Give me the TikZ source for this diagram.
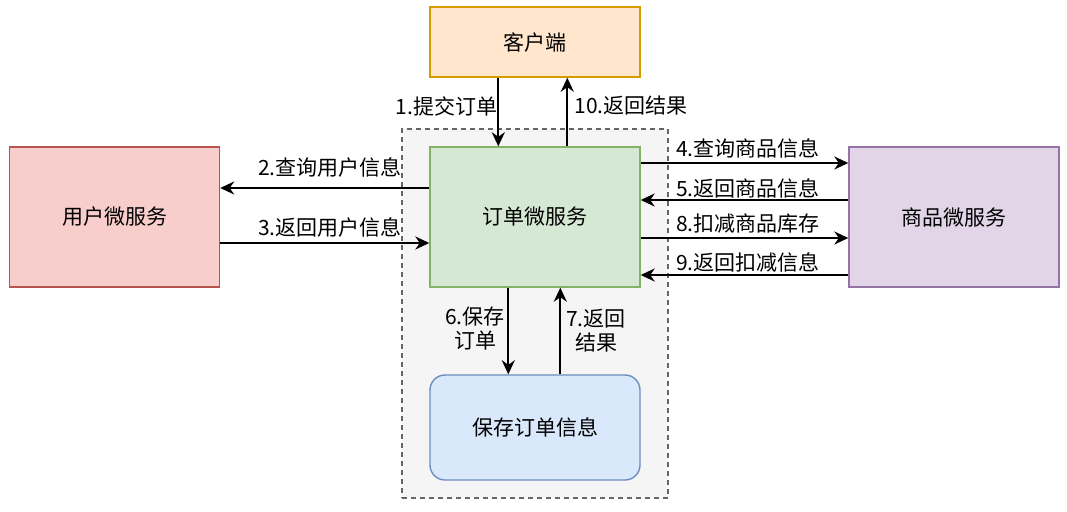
\documentclass[tikz,border=0pt]{standalone}
\usepackage{fontspec}
\setmainfont{Noto Sans CJK SC}
\usetikzlibrary{arrows.meta}
\definecolor{cliF}{HTML}{FFE6CC}\definecolor{cliS}{HTML}{D79B00}
\definecolor{ordF}{HTML}{D5E8D4}\definecolor{ordS}{HTML}{82B366}
\definecolor{usrF}{HTML}{F8CECC}\definecolor{usrS}{HTML}{B85450}
\definecolor{prdF}{HTML}{E1D5E7}\definecolor{prdS}{HTML}{9673A6}
\definecolor{savF}{HTML}{DAE8FC}\definecolor{savS}{HTML}{6C8EBF}
\definecolor{conF}{HTML}{F5F5F5}\definecolor{conS}{HTML}{666666}
\tikzset{
  box/.style={draw, line width=1.4pt, minimum width=210pt, inner sep=0pt, font=\fontsize{21}{24}\selectfont},
  arr/.style={line width=2pt, -{Stealth[length=14pt,width=13pt,inset=4.5pt]}},
  lbl/.style={font=\fontsize{21}{24}\selectfont, inner sep=0pt, align=center},
}
\begin{document}
\begin{tikzpicture}[x=1pt,y=-1pt]
\useasboundingbox (0,0) rectangle (1067,511);
\node[draw=conS, fill=conF, line width=1.4pt, dash pattern=on 5pt off 4pt, minimum width=266pt, minimum height=369pt, inner sep=0pt] (cont) at (535,313.5) {};
\node[box, draw=cliS, fill=cliF, minimum height=70pt] (client) at (535,42) {客户端};
\node[box, draw=ordS, fill=ordF, minimum height=140pt] (order) at (535,217) {订单微服务};
\node[box, draw=usrS, fill=usrF, minimum height=140pt] (user) at (114.5,217) {用户微服务};
\node[box, draw=prdS, fill=prdF, minimum height=140pt] (prod) at (954,217) {商品微服务};
\node[box, draw=savS, fill=savF, minimum height=105pt, rounded corners=15pt] (save) at (535,427.5) {保存订单信息};
% client <-> order
\draw[arr] ([xshift=69pt]client.south west) -- ([xshift=69pt]order.north west);
\draw[arr] ([xshift=138pt]order.north west) -- ([xshift=138pt]client.south west);
\node[lbl] (l1) at (446.5,106) {1.提交订单};
\node[lbl] (l10) at (631,106) {10.返回结果};
% order <-> user
\draw[arr] ([yshift=29pt]order.west) -- ([yshift=29pt]user.east);
\draw[arr] ([yshift=-26pt]user.east) -- ([yshift=-26pt]order.west);
\node[lbl] (l2) at (330,167) {2.查询用户信息};
\node[lbl] (l3) at (330,227) {3.返回用户信息};
% order <-> product
\draw[arr] ([yshift=54pt]order.east) -- ([yshift=54pt]prod.west);
\draw[arr] ([yshift=17pt]prod.west) -- ([yshift=17pt]order.east);
\draw[arr] ([yshift=-21pt]order.east) -- ([yshift=-21pt]prod.west);
\draw[arr] ([yshift=-58pt]prod.west) -- ([yshift=-58pt]order.east);
\node[lbl] (l4) at (748,148) {4.查询商品信息};
\node[lbl] (l5) at (748,188) {5.返回商品信息};
\node[lbl] (l8) at (748,224) {8.扣减商品库存};
\node[lbl] (l9) at (748,262) {9.返回扣减信息};
% order <-> save
\draw[arr] ([xshift=79pt]order.south west) -- ([xshift=79pt]save.north west);
\draw[arr] ([xshift=131pt]save.north west) -- ([xshift=131pt]order.south west);
\node[lbl] (l6) at (475,328.5) {6.保存\\订单};
\node[lbl] (l7) at (596,331) {7.返回\\结果};
\end{tikzpicture}
\end{document}
